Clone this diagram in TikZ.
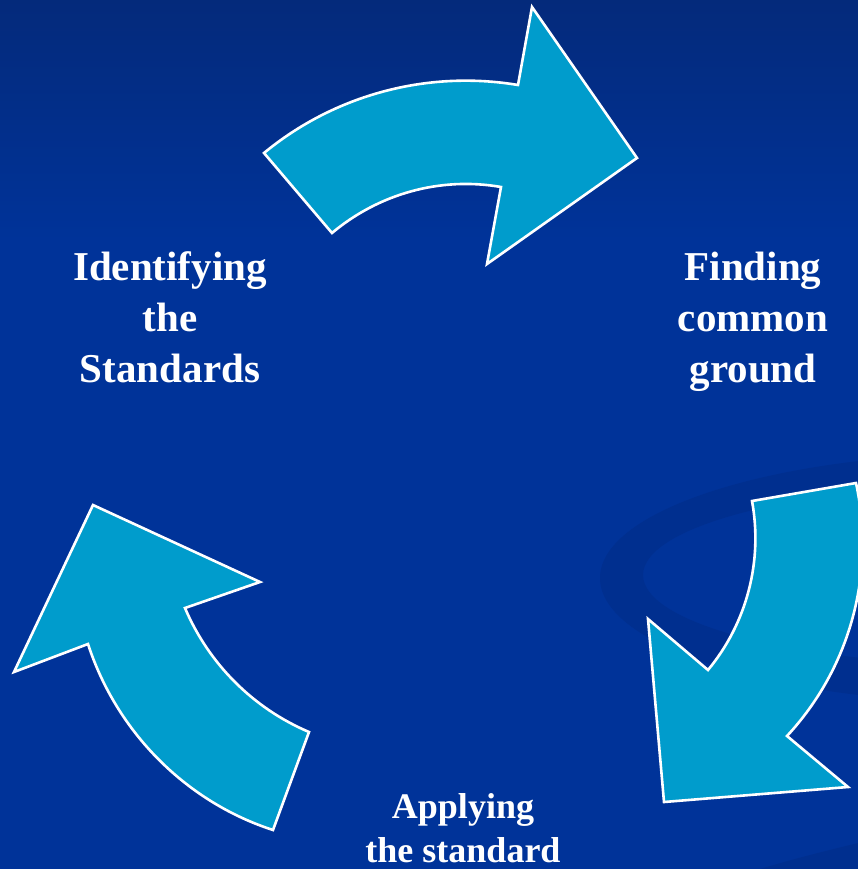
\documentclass[tikz,border=0pt]{standalone}
\usepackage{fontspec}
\setmainfont{Liberation Serif}
\definecolor{bgtop}{HTML}{042A7B}
\definecolor{bgmain}{HTML}{003399}
\definecolor{swoosh}{HTML}{002F8F}
\definecolor{arrowfill}{HTML}{009CCC}
\tikzset{
	%Define style for the curved block arrows
	bigarrow/.style={
		fill=arrowfill,
		draw=white, line width=2.6pt,
		line join=miter},
	%Define style for the step labels
	steplabel/.style={
		text=white,
		font=\fontsize{41}{51}\selectfont\bfseries,
		align=center,
		inner sep=0pt},
}

\begin{document}
\begin{tikzpicture}[x=1pt,y=-1pt]
		\useasboundingbox (0,0) rectangle (858,869);
		\clip (0,0) rectangle (858,869);
		% background
		\fill[bgmain] (0,0) rectangle (858,869);
		\shade[top color=bgtop, bottom color=bgmain] (0,0) rectangle (858,240);
		\fill[swoosh, even odd rule] (1000,578) ellipse [x radius=400, y radius=125]
			(1000,575) ellipse [x radius=357, y radius=90];
		\fill[swoosh] (760,869) .. controls (800,857) and (830,850) .. (858,843) -- (858,869) -- cycle;
		% arrow top
		\draw[bigarrow] (264,153) .. controls (334.8,94.6) and (427.5,69.9) .. (518,85)
			-- (532,7) -- (637,158) -- (487,264) -- (501,187)
			.. controls (440,176.4) and (378.6,193.9) .. (332,233) -- cycle;
		% arrow right
		\draw[bigarrow] (856,483) .. controls (875.6,573.8) and (850.2,667.8) .. (787,736)
			-- (848,787) -- (664,802) -- (648,619) -- (708,670)
			.. controls (746.9,623) and (763,561) .. (752,501) -- cycle;
		% arrow left
		\draw[bigarrow] (273,830) .. controls (185.5,801.6) and (116.4,731.5) .. (88,644)
			-- (14,672) -- (93,505) -- (260,582) -- (185,608)
			.. controls (208.7,663.8) and (253.2,708.3) .. (309,732) -- cycle;
		% node Identifying the Standards
		\node[steplabel, anchor=base] (identify) at (170,382) {Identifying\\the\\Standards};
		% node Finding common ground
		\node[steplabel, anchor=base] (finding) at (753,382) {Finding\\common\\ground};
		% node Applying the standard
		\node[steplabel, font=\fontsize{36}{44}\selectfont\bfseries, anchor=base] (applying) at (463,862) {Applying\\the standard};
	\end{tikzpicture}
\end{document}
